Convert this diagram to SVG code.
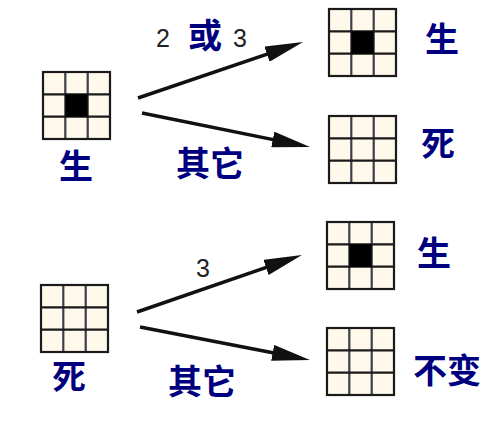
<svg xmlns="http://www.w3.org/2000/svg" xmlns:xlink="http://www.w3.org/1999/xlink" width="503" height="426" viewBox="0 0 503 426">
<style>
.cell{fill:#FFF9EC;}
.gl{stroke:#1a1a1a;stroke-width:2.2;fill:none;}
.gv{stroke:#3a3f4a;stroke-width:2.2;}
.live{fill:#000000;}
.cjk{font-family:"Noto Sans CJK SC","Noto Sans CJK JP",sans-serif;font-weight:bold;fill:#00007f;font-size:34px;text-anchor:middle;}
.num{font-family:"Liberation Sans",Arial,sans-serif;fill:#222222;font-size:25px;text-anchor:middle;}
.arr{stroke:#111111;stroke-width:3.5;fill:none;marker-end:url(#ah);}
</style>
<defs>
<marker id="ah" markerUnits="userSpaceOnUse" viewBox="0 0 38 16" markerWidth="38" markerHeight="16" refX="8" refY="8" orient="auto">
<path d="M0,0 L38,8 L0,16 Z" fill="#111111"/>
</marker>
<g id="grid">
<rect class="cell" x="0" y="0" width="67" height="67"/>
<line class="gv" x1="22.3" y1="0" x2="22.3" y2="67"/>
<line class="gv" x1="44.7" y1="0" x2="44.7" y2="67"/>
<line class="gl" x1="0" y1="22.3" x2="67" y2="22.3"/>
<line class="gl" x1="0" y1="44.7" x2="67" y2="44.7"/>
<rect class="gl" x="0" y="0" width="67" height="67" stroke-width="2.6"/>
</g>
</defs>
<rect width="503" height="426" fill="#ffffff"/>

<g id="node-start-alive">
<use xlink:href="#grid" x="43" y="72"/>
<rect class="live" x="65.3" y="94.3" width="22.4" height="22.4"/>
<text class="cjk" x="76" y="179">生</text>
</g>

<g id="node-result-alive-1">
<use xlink:href="#grid" x="329" y="9"/>
<rect class="live" x="351.3" y="31.3" width="22.4" height="22.4"/>
<text class="cjk" x="442" y="52">生</text>
</g>

<g id="node-result-dead">
<use xlink:href="#grid" x="329" y="116"/>
<text class="cjk" x="438" y="156">死</text>
</g>

<g id="node-start-dead">
<use xlink:href="#grid" x="41" y="285"/>
<text class="cjk" x="69" y="389">死</text>
</g>

<g id="node-result-alive-2">
<use xlink:href="#grid" x="327" y="222"/>
<rect class="live" x="349.3" y="244.3" width="22.4" height="22.4"/>
<text class="cjk" x="434" y="266">生</text>
</g>

<g id="node-result-unchanged">
<use xlink:href="#grid" x="327" y="328"/>
<text class="cjk" x="447" y="383">不变</text>
</g>

<g id="connectors">
<line class="arr" x1="138" y1="98" x2="274.6" y2="51.6"/>
<line class="arr" x1="142" y1="113" x2="280.6" y2="141.1"/>
<line class="arr" x1="137" y1="312" x2="273.6" y2="264.8"/>
<line class="arr" x1="140" y1="327" x2="280.5" y2="354.3"/>
<text class="num" x="163" y="47">2</text>
<text class="cjk" x="205" y="48">或</text>
<text class="num" x="240" y="47">3</text>
<text class="cjk" x="210" y="176">其它</text>
<text class="num" x="203" y="277">3</text>
<text class="cjk" x="202" y="394">其它</text>
</g>
</svg>
